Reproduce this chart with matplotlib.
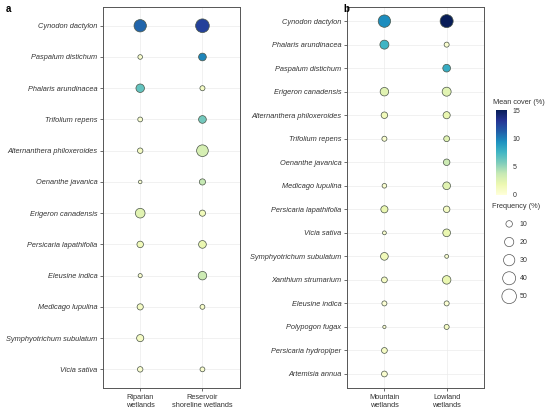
import numpy as np
import matplotlib
matplotlib.use("Agg")
from matplotlib import pyplot as plt
from matplotlib.colors import Normalize

plt.rcParams['font.family'] = ['Liberation Sans', 'DejaVu Sans']

# panel a: riparian vs reservoir shoreline wetlands
species_a = ['Cynodon dactylon', 'Paspalum distichum', 'Phalaris arundinacea',
             'Trifolium repens', 'Alternanthera philoxeroides', 'Oenanthe javanica',
             'Erigeron canadensis', 'Persicaria lapathifolia', 'Eleusine indica',
             'Medicago lupulina', 'Symphyotrichum subulatum', 'Vicia sativa']
groups_a = ['Riparian\nwetlands', 'Reservoir\nshoreline wetlands']
freq_a_rip = [36, 5, 17, 5.5, 7, 3, 22, 10, 4, 9, 12, 7]
freq_a_res = [44, 14, 6, 14, 32, 9, 9, 14, 17, 5.5, np.nan, 5.5]
cover_a_rip = [11, 0.5, 6.5, 0.5, 1, 0.3, 2.5, 1.5, 0.5, 1, 1, 0.5]
cover_a_res = [12.5, 9.8, 1, 6, 3, 3.8, 1.5, 2, 3.5, 0.8, np.nan, 0.5]

# panel b: mountain vs lowland wetlands
species_b = ['Cynodon dactylon', 'Phalaris arundinacea', 'Paspalum distichum',
             'Erigeron canadensis', 'Alternanthera philoxeroides', 'Trifolium repens',
             'Oenanthe javanica', 'Medicago lupulina', 'Persicaria lapathifolia',
             'Vicia sativa', 'Symphyotrichum subulatum', 'Xanthium strumarium',
             'Eleusine indica', 'Polypogon fugax', 'Persicaria hydropiper',
             'Artemisia annua']
groups_b = ['Mountain\nwetlands', 'Lowland\nwetlands']
freq_b_mtn = [36, 19, np.nan, 17, 10, 6, np.nan, 5, 12, 3.5, 14, 8, 6, 2.5, 8, 8]
freq_b_low = [40, 6, 14, 19, 12, 8, 10, 14, 10, 14, 3.5, 17, 6, 6, np.nan, np.nan]
cover_b_mtn = [9.5, 7.5, np.nan, 2.5, 1.5, 0.5, np.nan, 0.5, 2, 0.5, 1.5, 1, 0.3, 0.3, 1, 0.5]
cover_b_low = [15, 0.5, 8, 2.5, 2, 2.5, 3.5, 2.5, 1, 2, 0.5, 2, 0.3, 1, np.nan, np.nan]

legend_freqs = [10, 20, 30, 40, 50]

cmap = plt.get_cmap('YlGnBu')
norm = Normalize(0, 15)
size_k = 2.2
text_col = '#333333'


def panel(ax, species, groups, freqs, covers):
    ax.set_axisbelow(True)
    for j, (fr, cv) in enumerate(zip(freqs, covers)):
        fr = np.array(fr, float)
        cv = np.array(cv, float)
        ok = ~np.isnan(fr)
        y = np.arange(len(species))[ok]
        ax.scatter(np.full(ok.sum(), j + 1), y, s=fr[ok] * size_k, c=cv[ok],
                   cmap=cmap, norm=norm, edgecolors='#4a5548', linewidths=0.5,
                   zorder=3)
    ax.set_xlim(0.4, 2.6)
    ax.set_ylim(len(species) - 0.4, -0.6)
    ax.set_xticks([1, 2])
    ax.set_xticklabels(groups, fontsize=5.3, color=text_col)
    ax.set_yticks(range(len(species)))
    ax.set_yticklabels(species, fontsize=5.3, style='italic', color=text_col)
    ax.grid(True, color='#ebebeb', linewidth=0.5)
    ax.tick_params(length=2, width=0.5, color='#333333', pad=2)
    for sp in ax.spines.values():
        sp.set_color('#555555')
        sp.set_linewidth(0.7)


fig = plt.figure(figsize=(5.5, 4.12), dpi=100)
ax_a = fig.add_axes([0.187, 0.058, 0.249, 0.925])
ax_b = fig.add_axes([0.631, 0.058, 0.249, 0.925])
panel(ax_a, species_a, groups_a, [freq_a_rip, freq_a_res], [cover_a_rip, cover_a_res])
panel(ax_b, species_b, groups_b, [freq_b_mtn, freq_b_low], [cover_b_mtn, cover_b_low])

fig.text(0.01, 0.978, 'a', fontsize=7, fontweight='bold', va='center')
fig.text(0.625, 0.978, 'b', fontsize=7, fontweight='bold', va='center')

# colour bar
cax = fig.add_axes([0.901, 0.527, 0.021, 0.206])
sm = plt.cm.ScalarMappable(norm=norm, cmap=cmap)
cb = fig.colorbar(sm, cax=cax, ticks=[0, 5, 10, 15])
cb.outline.set_visible(False)
cb.ax.tick_params(labelsize=5, length=2, width=0.5, colors=text_col, pad=2)
cb.ax.tick_params(color='white')
fig.text(0.896, 0.75, 'Mean cover (%)', fontsize=5.3, color=text_col, va='center')

# size legend
handles = [plt.scatter([], [], s=f * size_k, facecolors='none', edgecolors='#555555',
                       linewidths=0.5) for f in legend_freqs]
leg = fig.legend(handles, [str(f) for f in legend_freqs], title='Frequency (%)',
                 loc='upper left', bbox_to_anchor=(0.886, 0.52), frameon=False,
                 fontsize=5, title_fontsize=5.3, labelspacing=1.6,
                 handlelength=1.3, handletextpad=0.9, borderpad=0.2)
leg.get_title().set_color(text_col)
for t in leg.get_texts():
    t.set_color(text_col)

fig.savefig('out.png', dpi=100)
